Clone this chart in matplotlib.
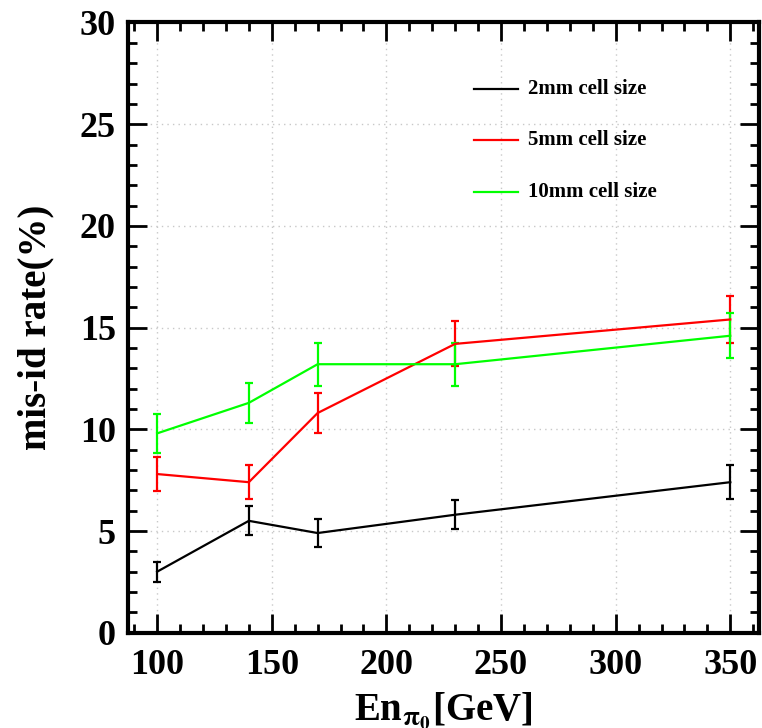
import matplotlib
matplotlib.use("Agg")
import matplotlib.pyplot as plt
from matplotlib.ticker import MultipleLocator

# Beam energy of the pi0 sample (GeV)
energy = [100, 140, 170, 230, 350]

# Mis-identification rate (%) and its uncertainty for each cell size
rate_2mm = [3.0, 5.5, 4.9, 5.8, 7.4]
err_2mm = [0.5, 0.72, 0.7, 0.7, 0.84]

rate_5mm = [7.8, 7.4, 10.8, 14.2, 15.4]
err_5mm = [0.85, 0.83, 0.98, 1.1, 1.15]

rate_10mm = [9.8, 11.3, 13.2, 13.2, 14.6]
err_10mm = [0.95, 1.0, 1.05, 1.05, 1.1]

labels = ["2mm cell size", "5mm cell size", "10mm cell size"]
colors = ["#000000", "#ff0000", "#00ff00"]

plt.rcParams["font.family"] = ["Liberation Serif", "DejaVu Serif"]
plt.rcParams["font.weight"] = "bold"
plt.rcParams["mathtext.fontset"] = "stix"

fig = plt.figure(figsize=(7.62, 7.28), dpi=100)
ax = fig.add_axes([0.1686, 0.1309, 0.8274, 0.8382])

series = [(rate_2mm, err_2mm), (rate_5mm, err_5mm), (rate_10mm, err_10mm)]
for (vals, errs), col in zip(series, colors):
    ax.errorbar(energy, vals, yerr=errs, color=col, lw=1.6, elinewidth=1.6,
                capsize=3.0, capthick=1.6, zorder=3)

ax.set_xlim(87.5, 362.5)
ax.set_ylim(0, 30)
ax.xaxis.set_major_locator(MultipleLocator(50))
ax.xaxis.set_minor_locator(MultipleLocator(10))
ax.yaxis.set_major_locator(MultipleLocator(5))
ax.yaxis.set_minor_locator(MultipleLocator(1))

ax.grid(True, which="major", color="#c8c8c8", linestyle=(0, (1, 3)), lw=1.0, zorder=0)

for s in ax.spines.values():
    s.set_linewidth(3.0)

ax.tick_params(which="both", direction="in", top=True, right=True, width=2.0)
ax.tick_params(which="major", length=14, labelsize=26)
ax.tick_params(axis="x", which="major", pad=12)
ax.tick_params(axis="y", which="major", pad=9)
ax.tick_params(which="minor", length=6.5)
for lab in ax.get_xticklabels() + ax.get_yticklabels():
    lab.set_fontweight("bold")

ax.set_xlabel(r"En$_{\mathbf{\pi_0}}$[GeV]", fontsize=28, fontweight="bold", va="baseline")
ax.xaxis.set_label_coords(0.5, -0.143)
ax.set_ylabel("mis-id rate(%)", fontsize=28, fontweight="bold", va="center")
ax.yaxis.set_label_coords(-0.147, 0.5)

# Legend: short line sample followed by the label
rows_y = [0.8905, 0.8074, 0.7227]
for lab, col, yy in zip(labels, colors, rows_y):
    ax.plot([0.548, 0.618], [yy, yy], color=col, lw=1.6, transform=ax.transAxes, zorder=4)
    ax.text(0.633, yy, lab, transform=ax.transAxes, fontsize=15, fontweight="bold",
            va="center", ha="left", zorder=4)

fig.savefig("out.png", dpi=100)
